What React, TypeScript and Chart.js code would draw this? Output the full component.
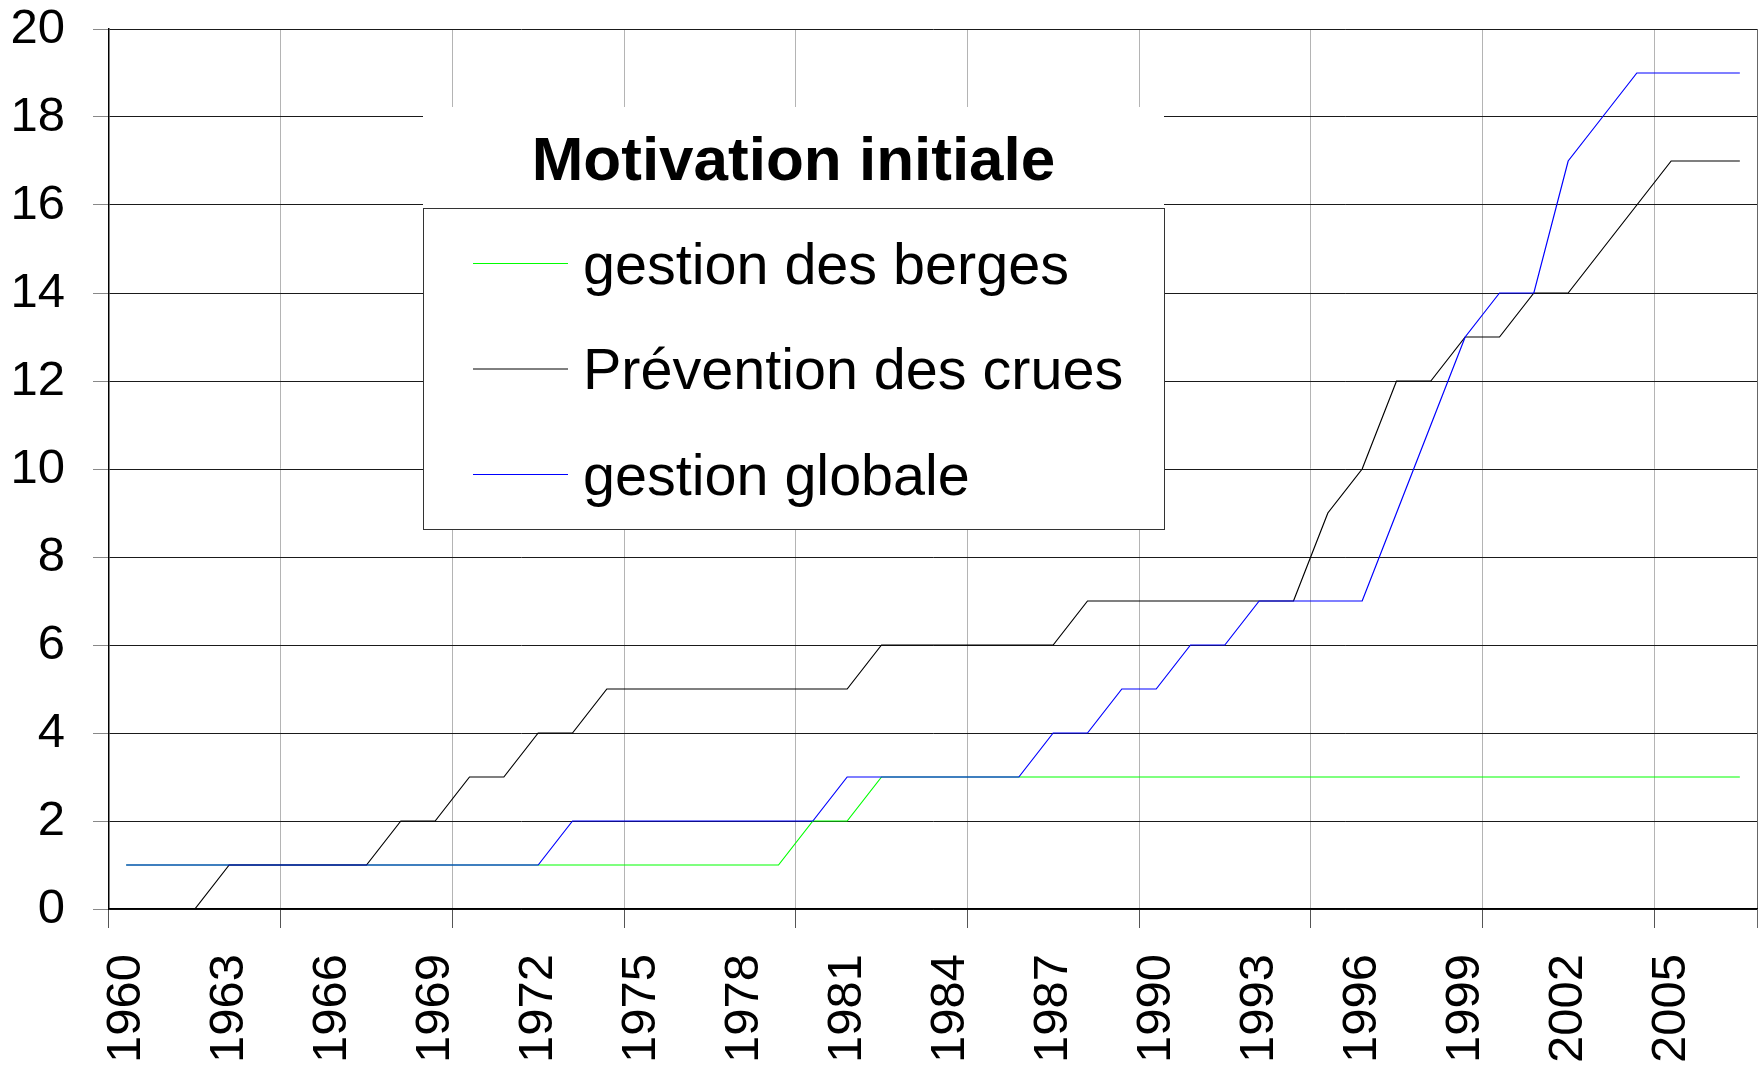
import React, { useEffect, useRef } from "react";
import { Chart, registerables } from "chart.js";

Chart.register(...registerables);

const years = [
  "1960", "1961", "1962", "1963", "1964", "1965", "1966", "1967", "1968", "1969",
  "1970", "1971", "1972", "1973", "1974", "1975", "1976", "1977", "1978", "1979",
  "1980", "1981", "1982", "1983", "1984", "1985", "1986", "1987", "1988", "1989",
  "1990", "1991", "1992", "1993", "1994", "1995", "1996", "1997", "1998", "1999",
  "2000", "2001", "2002", "2003", "2004", "2005", "2006", "2007",
];

const gestionDesBerges = [
  1, 1, 1, 1, 1, 1, 1, 1, 1, 1,
  1, 1, 1, 1, 1, 1, 1, 1, 1, 1,
  2, 2, 3, 3, 3, 3, 3, 3, 3, 3,
  3, 3, 3, 3, 3, 3, 3, 3, 3, 3,
  3, 3, 3, 3, 3, 3, 3, 3,
];

const preventionDesCrues = [
  0, 0, 0, 1, 1, 1, 1, 1, 2, 2,
  3, 3, 4, 4, 5, 5, 5, 5, 5, 5,
  5, 5, 6, 6, 6, 6, 6, 6, 7, 7,
  7, 7, 7, 7, 7, 9, 10, 12, 12, 13,
  13, 14, 14, 15, 16, 17, 17, 17,
];

const gestionGlobale = [
  1, 1, 1, 1, 1, 1, 1, 1, 1, 1,
  1, 1, 1, 2, 2, 2, 2, 2, 2, 2,
  2, 3, 3, 3, 3, 3, 3, 4, 4, 5,
  5, 6, 6, 7, 7, 7, 7, 9, 11, 13,
  14, 14, 17, 18, 19, 19, 19, 19,
];

const seriesLabels = ["gestion des berges", "Prévention des crues", "gestion globale"];
const seriesColors = ["#00ff00", "#000000", "#0000ff"];
const legendTitle = "Motivation initiale";

const FONT = '"Liberation Sans", Arial, Helvetica, sans-serif';

const boxLegend = {
  id: "boxLegend",
  afterDraw(chart: any, _args: any, opts: any) {
    const ctx = chart.ctx as CanvasRenderingContext2D;
    const { left, right, titleTop, boxTop, bottom } = opts;
    ctx.save();
    ctx.fillStyle = "#ffffff";
    ctx.fillRect(left, titleTop, right - left, bottom - titleTop);
    ctx.strokeStyle = "#333333";
    ctx.lineWidth = 1;
    ctx.strokeRect(left + 0.5, boxTop + 0.5, right - left, bottom - boxTop);
    ctx.fillStyle = "#000000";
    ctx.font = `bold ${opts.titleSize}px ${FONT}`;
    ctx.textAlign = "center";
    ctx.textBaseline = "alphabetic";
    ctx.fillText(opts.title, (left + right) / 2, opts.titleBaseline);
    ctx.font = `${opts.itemSize}px ${FONT}`;
    ctx.textAlign = "left";
    chart.data.datasets.forEach((ds: any, i: number) => {
      const y = opts.firstItemY + i * opts.itemGap;
      ctx.strokeStyle = ds.borderColor;
      ctx.lineWidth = 1;
      ctx.beginPath();
      ctx.moveTo(opts.sampleX1, y + 0.5);
      ctx.lineTo(opts.sampleX2, y + 0.5);
      ctx.stroke();
      ctx.fillStyle = "#000000";
      ctx.fillText(ds.label, opts.textX, y + opts.itemSize * 0.358);
    });
    ctx.restore();
  },
};

export default function App() {
  const canvasRef = useRef<HTMLCanvasElement | null>(null);

  useEffect(() => {
    document.body.style.margin = "0";
    const canvas = canvasRef.current;
    if (!canvas) return;
    const data = [gestionDesBerges, preventionDesCrues, gestionGlobale];
    const chart = new Chart(canvas, {
      type: "line",
      data: {
        labels: years,
        datasets: data.map((d, i) => ({
          label: seriesLabels[i],
          data: d,
          borderColor: seriesColors[i],
          backgroundColor: seriesColors[i],
          borderWidth: 1.2,
          pointRadius: 0,
          tension: 0,
          fill: false,
          order: 2 - i,
        })),
      },
      options: {
        responsive: false,
        animation: false,
        events: [],
        layout: { padding: { top: 29, right: 7, left: 0, bottom: 0 } },
        plugins: {
          legend: { display: false },
          title: { display: false },
          tooltip: { enabled: false },
          boxLegend: {
            left: 423,
            right: 1164,
            titleTop: 107,
            boxTop: 208,
            bottom: 529,
            title: legendTitle,
            titleSize: 62,
            titleBaseline: 180,
            itemSize: 57.5,
            firstItemY: 263,
            itemGap: 105.5,
            sampleX1: 473,
            sampleX2: 568,
            textX: 583,
          },
        } as any,
        scales: {
          x: {
            type: "category",
            offset: true,
            afterFit: (scale: any) => {
              scale.height = 159;
              scale.paddingLeft = 0;
              scale.paddingRight = 0;
              scale.paddingTop = 0;
              scale.paddingBottom = 0;
            },
            border: { display: true, color: "#000000", width: 1.5 },
            grid: {
              offset: true,
              drawOnChartArea: true,
              tickLength: 19,
              lineWidth: 1,
              color: (c: any) =>
                c.index === undefined ? "#666666" : c.index % 5 === 0 ? "#b4b4b4" : "rgba(0,0,0,0)",
              tickColor: (c: any) =>
                c.index === undefined ? "#666666" : c.index % 5 === 0 ? "#555555" : "rgba(0,0,0,0)",
            },
            ticks: {
              autoSkip: false,
              minRotation: 90,
              maxRotation: 90,
              padding: 26,
              color: "#000000",
              font: { family: FONT, size: 49 },
              callback: (_v: any, i: number) => (i % 3 === 0 ? years[i] : ""),
            },
          },
          y: {
            min: 0,
            max: 20,
            afterFit: (scale: any) => {
              scale.width = 109;
              scale.paddingLeft = 0;
              scale.paddingRight = 0;
              scale.paddingTop = 0;
              scale.paddingBottom = 0;
            },
            border: { display: true, color: "#000000", width: 1.5 },
            grid: {
              color: "#1a1a1a",
              lineWidth: 1,
              tickLength: 16,
              tickColor: "#888888",
            },
            ticks: {
              stepSize: 2,
              padding: 28,
              color: "#000000",
              font: { family: FONT, size: 49 },
            },
          },
        },
      },
      plugins: [boxLegend],
    } as any);
    return () => chart.destroy();
  }, []);

  return (
    <div style={{ width: 1764, height: 1068, background: "#ffffff" }}>
      <canvas ref={canvasRef} width={1764} height={1068} style={{ display: "block" }} />
    </div>
  );
}
